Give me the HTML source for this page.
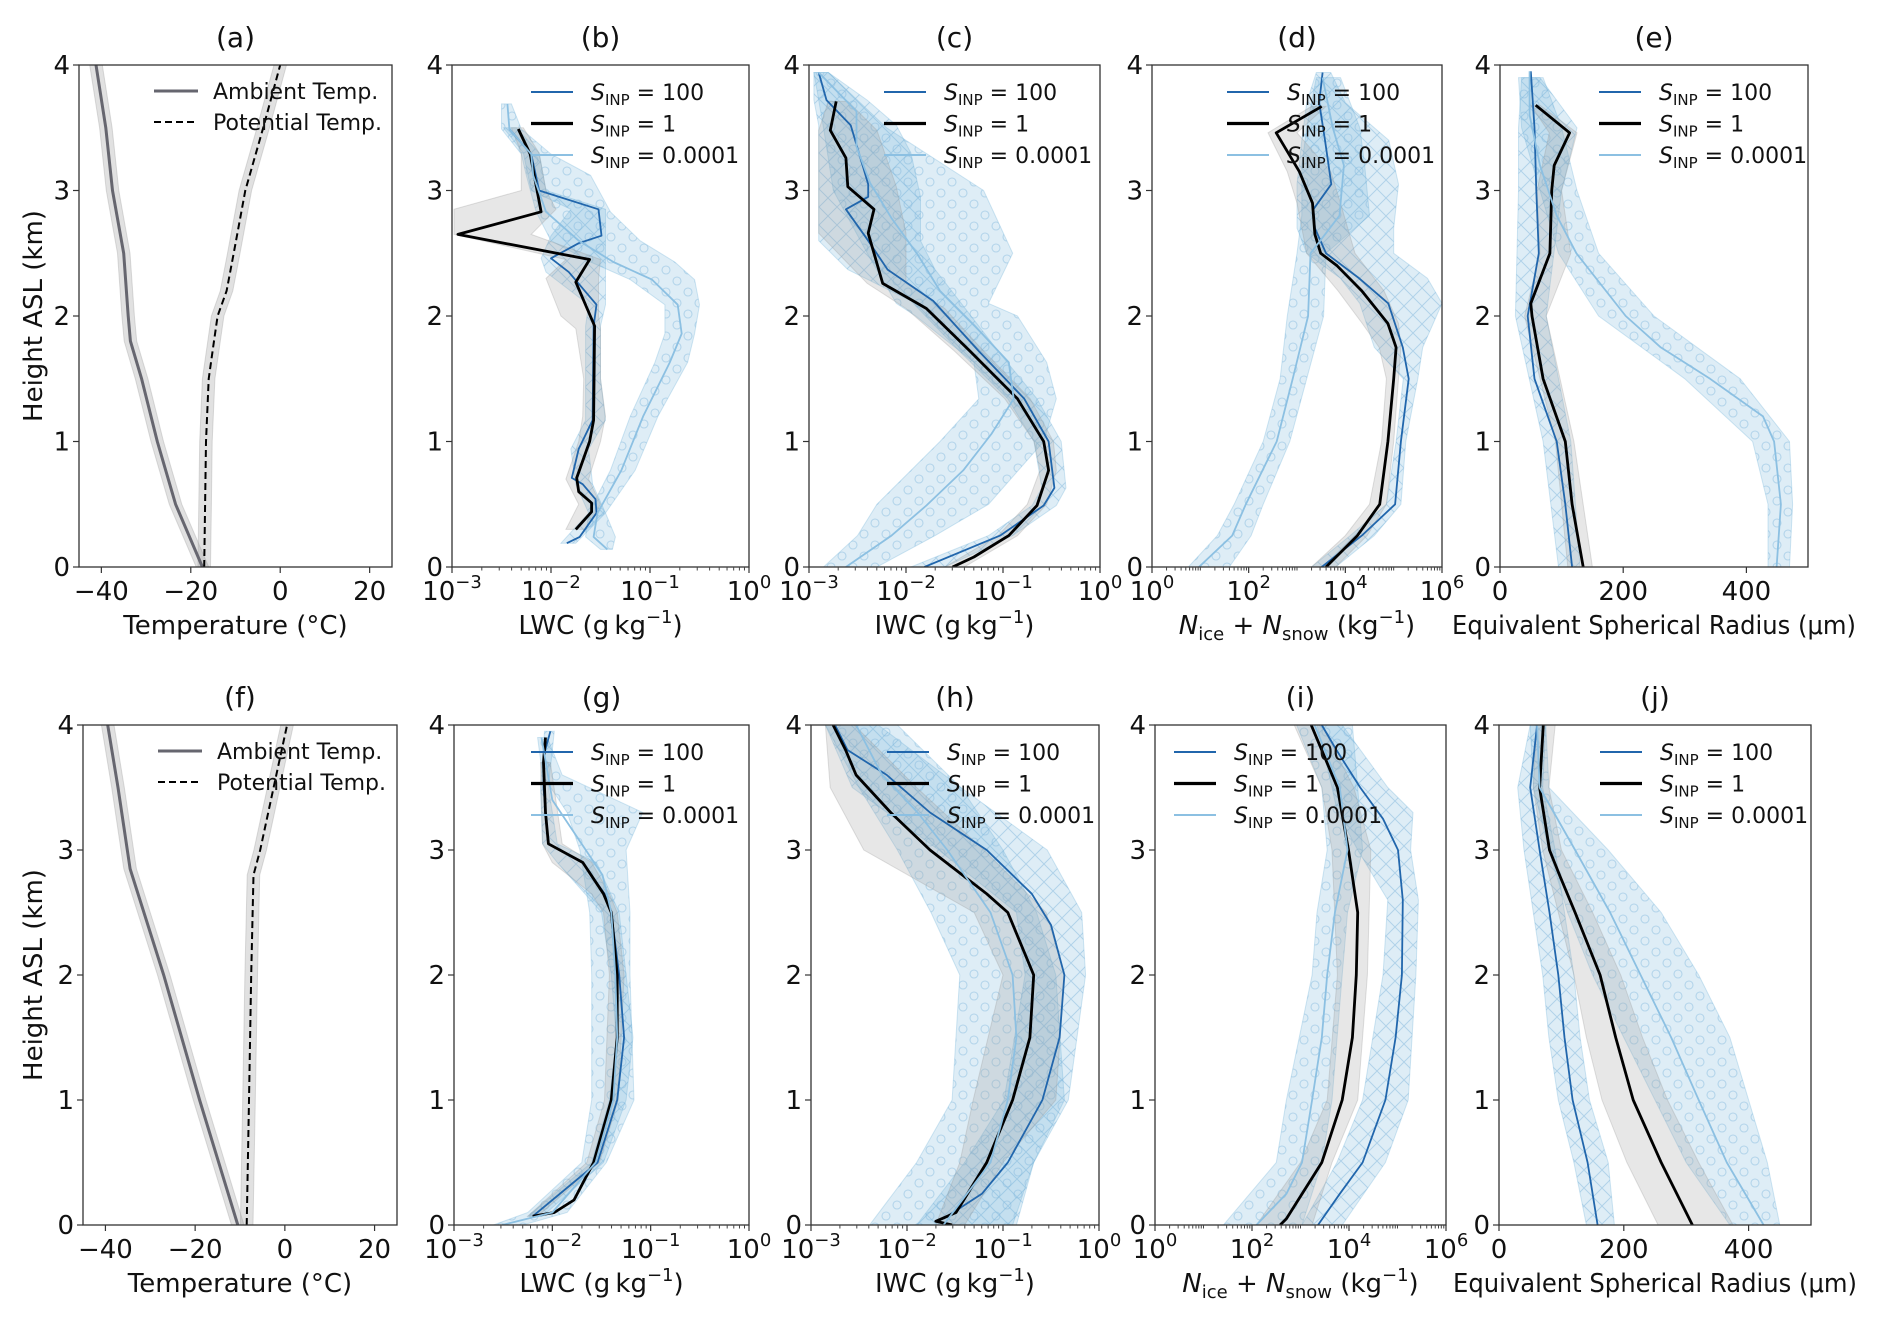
<!DOCTYPE html>
<html><head><meta charset="utf-8">
<style>
html,body{margin:0;padding:0;background:#fff;}
svg text{font-family:"DejaVu Sans","Liberation Sans",sans-serif;fill:#111;}
</style></head>
<body>
<svg id="fig" xmlns="http://www.w3.org/2000/svg" width="1892" height="1320" viewBox="0 0 1892 1320">
<defs>
<pattern id="hatchX" patternUnits="userSpaceOnUse" width="18" height="18">
<path d="M0,0 L18,18 M18,0 L0,18" stroke="#5a9fd0" stroke-width="1" stroke-opacity="0.35" fill="none"/>
</pattern>
<pattern id="circ" patternUnits="userSpaceOnUse" width="22" height="22">
<circle cx="6" cy="6" r="4" stroke="#7fb6dc" stroke-width="1.1" stroke-opacity="0.45" fill="none"/>
<circle cx="17" cy="17" r="4" stroke="#7fb6dc" stroke-width="1.1" stroke-opacity="0.45" fill="none"/>
</pattern>
</defs>
</svg>
<script>
// ===== DATA (heights in km; log panels store log10 of the value) =====
const heightTicks = [0,1,2,3,4];
const tempTickVals = [-40,-20,0,20];
const tempTickLabels = ['\u221240','\u221220','0','20'];
const lwcTickExp = [-3,-2,-1,0];
const nTickExp = [0,2,4,6];
const radTickVals = [0,200,400];
const radTickLabels = ['0','200','400'];

// (a)
const a_amb_h = [0,0.5,1,1.5,1.8,2,2.5,3,3.5,4];
const a_amb_t = [-17.4,-23.4,-27.5,-31,-33.5,-34,-35,-37.5,-39,-41.2];
const a_pot_h = [0,0.5,1,1.5,1.75,2,2.2,2.5,3,3.5,4];
const a_pot_t = [-17,-16.8,-16.6,-16,-15,-14,-12,-10.4,-7.8,-3.8,0];
// (f)
const f_amb_h = [0,1,2,2.85,3.5,4];
const f_amb_t = [-10.5,-19,-27,-34.5,-37.2,-39.5];
const f_pot_h = [0,1,2,2.8,3,3.5,4];
const f_pot_t = [-8.5,-8,-7.5,-7,-5.5,-2.5,0.5];

// (b) LWC
const b1_h = [0.3,0.44,0.51,0.6,0.71,1.0,1.17,1.92,2.27,2.45,2.65,2.83,3.29,3.49];
const b1_x = [-1.75,-1.59,-1.59,-1.72,-1.74,-1.61,-1.57,-1.56,-1.75,-1.61,-2.94,-2.1,-2.21,-2.33];
const b1_bh = [0.3,0.5,0.7,1.0,1.2,1.5,1.9,2.0,2.3,2.45,2.65,2.85,3.0,3.3,3.5];
const b1_lo = [-1.85,-1.72,-1.85,-1.72,-1.68,-1.67,-1.75,-1.9,-2.05,-1.85,-2.98,-2.98,-2.3,-2.3,-2.4];
const b1_hi = [-1.65,-1.5,-1.62,-1.5,-1.45,-1.5,-1.5,-1.52,-1.52,-1.5,-2.2,-1.95,-2.05,-2.12,-2.28];
const b100_h = [0.19,0.24,0.43,0.54,0.66,0.71,0.94,1.17,1.92,2.09,2.35,2.46,2.58,2.64,2.85,3.0,3.29,3.49];
const b100_x = [-1.84,-1.71,-1.54,-1.55,-1.68,-1.79,-1.72,-1.58,-1.57,-1.54,-1.82,-2.0,-1.72,-1.49,-1.52,-2.12,-2.2,-2.42];
const b100_bh = [0.19,0.43,0.66,0.94,1.17,1.5,1.92,2.09,2.35,2.46,2.64,2.85,3.0,3.3,3.5];
const b100_lo = [-1.9,-1.62,-1.75,-1.8,-1.65,-1.65,-1.65,-1.62,-2.05,-2.1,-2.0,-1.8,-2.2,-2.28,-2.48];
const b100_hi = [-1.75,-1.45,-1.58,-1.62,-1.45,-1.5,-1.5,-1.45,-1.45,-1.45,-1.45,-1.45,-2.05,-2.12,-2.35];
const b4_h = [0.14,0.24,0.43,0.77,1.2,1.63,1.86,2.09,2.29,2.43,2.6,2.83,3.12,3.29,3.49,3.69];
const b4_x = [-1.43,-1.57,-1.53,-1.29,-1.07,-0.8,-0.68,-0.72,-0.98,-1.37,-1.72,-2.05,-2.18,-2.2,-2.42,-2.44];
const b4_bh = [0.14,0.24,0.43,0.77,1.2,1.63,1.86,2.09,2.29,2.43,2.6,2.83,3.12,3.29,3.49,3.69];
const b4_lo = [-1.5,-1.65,-1.62,-1.4,-1.2,-0.95,-0.85,-0.85,-1.2,-1.6,-2.0,-2.15,-2.25,-2.3,-2.5,-2.5];
const b4_hi = [-1.38,-1.35,-1.45,-1.15,-0.92,-0.62,-0.55,-0.5,-0.55,-0.75,-1.1,-1.4,-1.6,-2.0,-2.3,-2.4];

// (c) IWC
const c1_h = [0,0.08,0.25,0.49,0.77,1.0,1.34,1.72,2.06,2.26,2.66,2.85,3.03,3.26,3.48,3.71];
const c1_x = [-1.52,-1.3,-0.94,-0.65,-0.53,-0.58,-0.85,-1.34,-1.79,-2.24,-2.39,-2.33,-2.6,-2.62,-2.78,-2.72];
const c1_bh = [0,0.25,0.5,0.77,1.0,1.34,1.72,2.06,2.26,2.66,3.03,3.48,3.71];
const c1_lo = [-1.6,-1.05,-0.75,-0.62,-0.68,-0.98,-1.5,-2.0,-2.4,-2.9,-2.9,-2.9,-2.8];
const c1_hi = [-1.4,-0.85,-0.55,-0.45,-0.48,-0.72,-1.2,-1.6,-2.0,-2.0,-2.1,-2.3,-2.6];
const c100_h = [0,0.25,0.49,0.63,1.0,1.34,1.72,2.12,2.37,2.6,2.85,2.95,3.05,3.52,3.72,3.94];
const c100_x = [-1.81,-1.03,-0.58,-0.47,-0.53,-0.78,-1.25,-1.72,-2.19,-2.39,-2.62,-2.39,-2.39,-2.57,-2.82,-2.9];
const c100_bh = [0,0.25,0.49,0.63,1.0,1.34,1.72,2.12,2.37,2.6,2.95,3.3,3.52,3.72,3.94];
const c100_lo = [-1.95,-1.15,-0.7,-0.6,-0.68,-0.95,-1.45,-1.95,-2.6,-2.9,-2.9,-2.9,-2.9,-2.95,-2.95];
const c100_hi = [-1.6,-0.9,-0.45,-0.35,-0.4,-0.65,-1.05,-1.45,-1.7,-1.85,-1.85,-1.95,-2.1,-2.4,-2.8];
const c4_h = [0,0.25,0.49,0.77,1.06,1.34,1.63,1.92,2.2,2.49,2.78,3.06,3.35,3.63,3.94];
const c4_x = [-2.62,-2.15,-1.79,-1.41,-1.12,-0.89,-0.94,-1.29,-1.65,-1.88,-2.15,-2.37,-2.51,-2.51,-2.9];
const c4_bh = [0,0.25,0.5,1.0,1.34,1.63,2.0,2.1,2.5,3.0,3.5,3.94];
const c4_lo = [-2.85,-2.5,-2.3,-1.65,-1.25,-1.3,-1.9,-2.1,-2.4,-2.75,-2.85,-2.95];
const c4_hi = [-2.3,-1.7,-1.15,-0.58,-0.45,-0.55,-0.85,-1.15,-0.9,-1.2,-2.2,-2.8];

// (d) N
const d1_h = [0,0.25,0.5,1.0,1.5,1.75,1.94,2.2,2.4,2.5,2.65,2.9,3.15,3.46,3.67];
const d1_x = [3.6,4.25,4.71,4.88,5.0,5.05,4.88,4.34,3.83,3.49,3.37,3.32,3.05,2.57,3.51];
const d1_bh = [0,0.25,0.5,1.0,1.5,1.75,1.94,2.2,2.5,2.9,3.15,3.46,3.67];
const d1_lo = [3.3,4.0,4.5,4.75,4.85,4.7,4.35,3.85,3.2,3.0,2.8,2.4,3.3];
const d1_hi = [3.8,4.45,4.85,5.0,5.1,5.15,5.1,4.8,4.2,3.9,3.7,3.0,3.6];
const d100_h = [0,0.25,0.5,1.0,1.5,1.75,2.1,2.3,2.5,2.7,2.85,3.05,3.4,3.7,3.94];
const d100_x = [3.51,4.34,5.03,5.15,5.31,5.19,4.89,4.29,3.6,3.37,3.34,3.71,3.58,3.46,3.53];
const d100_bh = [0,0.25,0.5,1.0,1.5,1.75,2.1,2.3,2.5,2.7,3.05,3.4,3.7,3.94];
const d100_lo = [3.3,4.1,4.85,5.05,5.2,4.6,4.3,3.9,3.2,3.0,3.0,3.1,3.2,3.4];
const d100_hi = [3.8,4.6,5.15,5.25,5.5,5.6,6.0,5.7,5.0,5.0,5.1,4.9,4.0,3.7];
const d4_h = [0,0.25,0.5,1.0,1.5,2.0,2.5,2.8,3.2,3.5,3.9];
const d4_x = [0.97,1.66,1.94,2.58,2.91,3.23,3.28,3.88,3.97,3.74,3.53];
const d4_bh = [0,0.25,0.5,1.0,1.5,2.0,2.5,2.8,3.2,3.5,3.9];
const d4_lo = [0.75,1.35,1.7,2.3,2.65,2.8,3.0,3.1,3.1,3.2,3.4];
const d4_hi = [1.6,2.05,2.3,2.85,3.2,3.55,3.6,4.5,4.4,4.3,3.9];

// (e) radius
const e1_h = [0,0.5,1.0,1.5,2.0,2.1,2.5,3.0,3.2,3.46,3.68];
const e1_x = [135,117,106,70,52,50,81,84,88,113,58];
const e1_bh = [0,1.0,2.0,2.5,3.0,3.46,3.68];
const e1_lo = [110,90,40,65,60,80,50];
const e1_hi = [150,120,75,115,100,125,65];
const e100_h = [0,0.5,1.0,1.5,2.0,2.5,3.0,3.5,3.95];
const e100_x = [117,106,92,56,45,63,59,56,50];
const e100_bh = [0,1.0,2.0,3.0,3.5,3.9];
const e100_lo = [95,70,25,30,30,35];
const e100_hi = [130,115,75,100,125,65];
const e4_h = [0,0.5,1.0,1.2,1.5,1.75,2.0,2.5,2.8,3.2,3.6,3.95];
const e4_x = [449,456,445,427,341,261,204,124,92,65,48,48];
const e4_bh = [0,0.5,1.0,1.5,2.0,2.5,3.0,3.5,3.9];
const e4_lo = [435,435,410,300,160,95,65,35,30];
const e4_hi = [470,475,470,390,250,160,125,100,70];

// (g) LWC
const g1_h = [0.07,0.1,0.2,0.5,1.0,1.5,2.0,2.5,2.65,2.9,3.05,3.3,3.7,3.9];
const g1_x = [-2.2,-1.98,-1.78,-1.58,-1.4,-1.34,-1.34,-1.4,-1.48,-1.69,-2.04,-2.07,-2.09,-2.07];
const g1_bh = [0.07,0.5,1.0,2.0,2.5,2.65,2.9,3.05,3.7];
const g1_lo = [-2.25,-1.65,-1.47,-1.42,-1.48,-1.6,-2.0,-2.1,-2.12];
const g1_hi = [-2.15,-1.52,-1.33,-1.27,-1.34,-1.42,-1.6,-1.9,-2.02];
const g100_h = [0.07,0.5,1.0,1.5,2.0,2.5,2.65,2.9,3.05,3.5,3.75,3.95];
const g100_x = [-2.2,-1.54,-1.34,-1.27,-1.32,-1.4,-1.47,-1.69,-2.04,-2.09,-2.09,-2.02];
const g100_bh = [0.07,0.5,1.0,1.5,2.0,2.5,2.9,3.05,3.5,3.95];
const g100_lo = [-2.25,-1.6,-1.42,-1.35,-1.4,-1.5,-1.95,-2.1,-2.12,-2.08];
const g100_hi = [-2.1,-1.48,-1.25,-1.18,-1.25,-1.32,-1.55,-1.95,-2.04,-1.98];
const g4_h = [0,0.1,0.5,1.0,1.5,2.0,2.5,2.8,3.4,3.9];
const g4_x = [-2.51,-2.0,-1.56,-1.38,-1.34,-1.36,-1.4,-1.49,-2.0,-2.11];
const g4_bh = [0,0.1,0.5,1.0,2.0,2.5,3.0,3.3,3.6,3.9];
const g4_lo = [-2.6,-2.25,-1.7,-1.6,-1.6,-1.62,-1.72,-1.85,-2.1,-2.15];
const g4_hi = [-2.3,-1.85,-1.45,-1.17,-1.21,-1.21,-1.25,-1.08,-1.9,-2.05];

// (h) IWC
const h1_h = [0,0.03,0.1,0.5,1.0,1.5,2.0,2.5,2.65,3.0,3.3,3.6,3.8,4.0];
const h1_x = [-1.53,-1.7,-1.49,-1.17,-0.9,-0.72,-0.68,-0.95,-1.17,-1.76,-2.17,-2.53,-2.64,-2.77];
const h1_bh = [0,0.5,1.0,2.0,2.5,3.0,3.5,4.0];
const h1_lo = [-1.7,-1.45,-1.31,-1.0,-1.3,-2.45,-2.8,-2.85];
const h1_hi = [-1.4,-1.0,-0.45,-0.36,-0.55,-1.2,-1.9,-2.55];
const h100_h = [0.05,0.25,0.5,1.0,1.5,2.0,2.4,2.65,3.0,3.3,3.6,3.8,4.0];
const h100_x = [-1.62,-1.22,-0.95,-0.59,-0.41,-0.36,-0.5,-0.7,-1.17,-1.76,-2.21,-2.62,-2.75];
const h100_bh = [0,0.5,1.0,2.0,2.5,3.0,3.5,4.0];
const h100_lo = [-1.9,-1.4,-0.99,-0.77,-0.86,-1.67,-2.57,-2.85];
const h100_hi = [-0.86,-0.68,-0.32,-0.14,-0.18,-0.54,-1.44,-2.3];
const h4_h = [0,0.5,1.0,1.5,2.0,2.5,2.8,3.0,3.3,3.6,4.0];
const h4_x = [-1.62,-1.13,-0.95,-0.86,-0.9,-1.13,-1.4,-1.58,-1.89,-2.26,-2.53];
const h4_bh = [0,0.5,1.0,2.0,2.5,3.0,3.5,4.0];
const h4_lo = [-2.39,-1.9,-1.53,-1.45,-1.75,-2.1,-2.5,-2.85];
const h4_hi = [-0.9,-0.68,-0.36,-0.45,-0.65,-1.0,-1.44,-2.1];

// (i) N
const i1_h = [0,0.05,0.5,1.0,1.5,2.0,2.5,3.0,3.5,4.0];
const i1_x = [2.58,2.71,3.44,3.86,4.07,4.15,4.18,3.99,3.76,3.22];
const i1_bh = [0,0.5,1.0,2.0,3.0,3.5,4.0];
const i1_lo = [2.09,3.0,3.55,3.76,3.65,3.44,2.87];
const i1_hi = [3.24,3.65,4.18,4.38,4.45,4.1,3.44];
const i100_h = [0,0.25,0.5,1.0,1.5,2.0,2.6,3.0,3.25,3.5,3.8,4.0];
const i100_x = [3.36,3.81,4.28,4.75,4.96,5.09,5.11,5.01,4.7,4.23,3.74,3.44];
const i100_bh = [0,0.5,1.0,2.0,2.6,3.0,3.3,3.5,4.0];
const i100_lo = [3.03,3.75,4.28,4.7,4.8,4.18,3.76,3.65,3.34];
const i100_hi = [3.86,4.75,5.22,5.38,5.43,5.27,5.32,4.8,3.86];
const i4_h = [0,0.25,0.5,1.0,1.5,2.0,2.5,3.0,3.5,4.0];
const i4_x = [2.09,2.71,3.03,3.24,3.44,3.55,3.71,3.97,3.81,3.29];
const i4_bh = [0,0.5,1.0,2.0,2.5,3.0,3.5,4.0];
const i4_lo = [1.41,2.5,2.71,3.24,3.34,3.55,3.44,2.92];
const i4_hi = [3.03,3.44,3.65,3.86,3.97,4.28,4.18,4.07];

// (j) radius
const j1_h = [0,0.5,1.0,1.5,2.0,2.5,2.8,3.0,3.5,4.0];
const j1_x = [310,260,215,187,162,122,97,81,65,71];
const j1_bh = [0,0.5,1.0,1.5,2.0,2.5,3.0,3.5,4.0];
const j1_lo = [255,205,165,140,120,95,70,55,60];
const j1_hi = [375,320,270,230,195,150,100,80,90];
const j100_h = [0,0.5,1.0,1.5,2.0,2.5,3.0,3.5,4.0];
const j100_x = [158,142,118,105,95,81,65,50,61];
const j100_bh = [0,0.5,1.0,1.5,2.0,2.5,3.0,3.5,4.0];
const j100_lo = [140,120,95,80,70,55,40,30,50];
const j100_hi = [185,175,145,130,120,105,90,70,75];
const j4_h = [0,0.5,1.0,1.5,2.0,2.5,3.0,3.5,4.0];
const j4_x = [424,365,320,276,227,178,122,65,61];
const j4_bh = [0,0.5,1.0,1.5,2.0,2.5,3.0,3.5,4.0];
const j4_lo = [370,300,250,200,150,110,80,55,50];
const j4_hi = [450,430,400,370,320,260,175,80,75];

// ===== DRAWING =====
const NS = 'http://www.w3.org/2000/svg';
const svg = document.getElementById('fig');
function mk(tag, attrs, parent){
  const e = document.createElementNS(NS, tag);
  for (const k in attrs) e.setAttribute(k, attrs[k]);
  parent.appendChild(e);
  return e;
}
const DARK = '#2166ac', LIGHT = '#8cc0e2';
const LEG_S = [
  {label:' = 100', color:DARK, w:2},
  {label:' = 1', color:'#000', w:3.2},
  {label:' = 0.0001', color:LIGHT, w:2}
];
const panels = [
 {id:'a', x0:79, x1:392, y0:65, y1:567, xmin:-45, xmax:25, type:'temp', amb:[a_amb_h,a_amb_t], pot:[a_pot_h,a_pot_t], xlabel:'Temperature (\u00b0C)', ylab:true, leg:[154,213]},
 {id:'b', x0:452, x1:749, y0:65, y1:567, xmin:-3, xmax:0, type:'log', ticks:lwcTickExp,
   s:[[b1_h,b1_x,b1_bh,b1_lo,b1_hi],[b100_h,b100_x,b100_bh,b100_lo,b100_hi],[b4_h,b4_x,b4_bh,b4_lo,b4_hi]], xlabel:'LWC', leg:[531,591]},
 {id:'c', x0:809, x1:1100, y0:65, y1:567, xmin:-3, xmax:0, type:'log', ticks:lwcTickExp,
   s:[[c1_h,c1_x,c1_bh,c1_lo,c1_hi],[c100_h,c100_x,c100_bh,c100_lo,c100_hi],[c4_h,c4_x,c4_bh,c4_lo,c4_hi]], xlabel:'IWC', leg:[884,944]},
 {id:'d', x0:1152, x1:1442, y0:65, y1:567, xmin:0, xmax:6, type:'log', ticks:nTickExp,
   s:[[d1_h,d1_x,d1_bh,d1_lo,d1_hi],[d100_h,d100_x,d100_bh,d100_lo,d100_hi],[d4_h,d4_x,d4_bh,d4_lo,d4_hi]], xlabel:'N', leg:[1227,1287]},
 {id:'e', x0:1500, x1:1808, y0:65, y1:567, xmin:0, xmax:500, type:'lin', ticks:radTickVals, tlabels:radTickLabels,
   s:[[e1_h,e1_x,e1_bh,e1_lo,e1_hi],[e100_h,e100_x,e100_bh,e100_lo,e100_hi],[e4_h,e4_x,e4_bh,e4_lo,e4_hi]], xlabel:'R', leg:[1599,1659]},
 {id:'f', x0:83, x1:397, y0:725, y1:1225, xmin:-45, xmax:25, type:'temp', amb:[f_amb_h,f_amb_t], pot:[f_pot_h,f_pot_t], xlabel:'Temperature (\u00b0C)', ylab:true, leg:[158,217]},
 {id:'g', x0:454, x1:749, y0:725, y1:1225, xmin:-3, xmax:0, type:'log', ticks:lwcTickExp,
   s:[[g1_h,g1_x,g1_bh,g1_lo,g1_hi],[g100_h,g100_x,g100_bh,g100_lo,g100_hi],[g4_h,g4_x,g4_bh,g4_lo,g4_hi]], xlabel:'LWC', leg:[531,591]},
 {id:'h', x0:811, x1:1099, y0:725, y1:1225, xmin:-3, xmax:0, type:'log', ticks:lwcTickExp,
   s:[[h1_h,h1_x,h1_bh,h1_lo,h1_hi],[h100_h,h100_x,h100_bh,h100_lo,h100_hi],[h4_h,h4_x,h4_bh,h4_lo,h4_hi]], xlabel:'IWC', leg:[887,947]},
 {id:'i', x0:1155, x1:1446, y0:725, y1:1225, xmin:0, xmax:6, type:'log', ticks:nTickExp,
   s:[[i1_h,i1_x,i1_bh,i1_lo,i1_hi],[i100_h,i100_x,i100_bh,i100_lo,i100_hi],[i4_h,i4_x,i4_bh,i4_lo,i4_hi]], xlabel:'N', leg:[1174,1234]},
 {id:'j', x0:1499, x1:1811, y0:725, y1:1225, xmin:0, xmax:500, type:'lin', ticks:radTickVals, tlabels:radTickLabels,
   s:[[j1_h,j1_x,j1_bh,j1_lo,j1_hi],[j100_h,j100_x,j100_bh,j100_lo,j100_hi],[j4_h,j4_x,j4_bh,j4_lo,j4_hi]], xlabel:'R', leg:[1600,1660]}
];
const ORDER = [1,2,0];
const SNAME = ['s-inp-1','s-inp-100','s-inp-0001'];

function drawPanel(p){
  const g = mk('g', {}, svg);
  
  
  const X = v => p.x0 + (v - p.xmin) / (p.xmax - p.xmin) * (p.x1 - p.x0);
  const Y = h => p.y1 - h / 4 * (p.y1 - p.y0);
  const clipId = 'clip' + p.id;
  const cp = mk('clipPath', {id:clipId}, g);
  mk('rect', {x:p.x0, y:p.y0, width:p.x1-p.x0, height:p.y1-p.y0}, cp);
  const plot = mk('g', {'clip-path':'url(#'+clipId+')'}, g);
  
  
  const lineD = (hs, xs) => hs.map((h,k)=>(k?'L':'M')+X(xs[k]).toFixed(1)+','+Y(h).toFixed(1)).join(' ');
  const bandD = (hs, lo, hi) => {
    let d = hs.map((h,k)=>(k?'L':'M')+X(hi[k]).toFixed(1)+','+Y(h).toFixed(1)).join(' ');
    for (let k = hs.length-1; k >= 0; k--) d += ' L'+X(lo[k]).toFixed(1)+','+Y(hs[k]).toFixed(1);
    return d + ' Z';
  };
  if (p.type === 'temp'){
    const bands = [[p.amb[0], p.amb[1]], [p.pot[0], p.pot[1]]];
    bands.forEach((b, bi) => {
      const lo = b[1].map(v => v - 1.4), hi = b[1].map(v => v + 1.4);
      const band = mk('path', {d:bandD(b[0], lo, hi), fill:'#9a9a9a', 'fill-opacity':0.3, stroke:'#aaa', 'stroke-opacity':0.4}, plot);
      
      
    });
    const amb = mk('path', {d:lineD(p.amb[0], p.amb[1]), fill:'none', stroke:'#66666f', 'stroke-width':3}, plot);
    
    
    const pot = mk('path', {d:lineD(p.pot[0], p.pot[1]), fill:'none', stroke:'#000', 'stroke-width':2, 'stroke-dasharray':'7,4'}, plot);
    
    
  } else {
    ORDER.forEach(si => {
      const s = p.s[si];
      const isGray = si === 0;
      const band = mk('path', {d:bandD(s[2], s[3], s[4]), fill:isGray ? '#a0a0a0' : '#6baed6', 'fill-opacity':isGray ? 0.25 : 0.22, stroke:isGray ? '#999' : '#6baed6', 'stroke-opacity':0.3}, plot);
      
      
      if (!isGray){
        const pat = mk('path', {d:bandD(s[2], s[3], s[4]), fill: si === 1 ? 'url(#hatchX)' : 'url(#circ)', stroke:'none'}, plot);
        
        
      }
    });
    [[1, DARK, 1.8], [0, '#000', 2.8], [2, LIGHT, 1.8]].forEach(c => {
      const s = p.s[c[0]];
      const ln = mk('path', {d:lineD(s[0], s[1]), fill:'none', stroke:c[1], 'stroke-width':c[2], 'stroke-linejoin':'round'}, plot);
      
      
    });
  }
  const fr = mk('rect', {x:p.x0, y:p.y0, width:p.x1-p.x0, height:p.y1-p.y0, fill:'none', stroke:'#333', 'stroke-width':1.3}, g);
  
  
  heightTicks.forEach(t => {
    const tk = mk('line', {x1:p.x0-6, x2:p.x0, y1:Y(t), y2:Y(t), stroke:'#333', 'stroke-width':1.2}, g);
    
    
    const tl = mk('text', {x:p.x0-9, y:Y(t)+9, 'text-anchor':'end', 'font-size':26}, g);
    tl.textContent = String(t);
    
    
  });
  const tickVals = p.type === 'temp' ? tempTickVals : p.ticks;
  tickVals.forEach((t, k) => {
    const tk = mk('line', {x1:X(t), x2:X(t), y1:p.y1, y2:p.y1+6, stroke:'#333', 'stroke-width':1.2}, g);
    
    
    const tl = mk('text', {x:X(t), y:p.y1+33, 'text-anchor':'middle', 'font-size':26}, g);
    if (p.type === 'log') tl.innerHTML = '10<tspan font-size="18" dy="-12">' + String(t).replace('-', '\u2212') + '</tspan>';
    else if (p.type === 'temp') tl.textContent = tempTickLabels[k];
    else tl.textContent = p.tlabels[k];
    
    
  });
  if (p.type === 'log'){
    for (let e = p.xmin; e < p.xmax; e++){
      for (let m = 2; m <= 9; m++){
        const v = e + Math.log10(m);
        const mt = mk('line', {x1:X(v), x2:X(v), y1:p.y1, y2:p.y1+3.5, stroke:'#444', 'stroke-width':1}, g);
        
        
      }
      if (p.ticks[1] - p.ticks[0] === 2 && (e - p.xmin) % 2 === 1){
        const mt2 = mk('line', {x1:X(e), x2:X(e), y1:p.y1, y2:p.y1+3.5, stroke:'#444', 'stroke-width':1}, g);
        
        
      }
    }
  }
  const ti = mk('text', {x:(p.x0+p.x1)/2, y:p.y0-18, 'text-anchor':'middle', 'font-size':28}, g);
  ti.textContent = '(' + p.id + ')';
  
  
  const xl = mk('text', {x:(p.x0+p.x1)/2, y:p.y1+67, 'text-anchor':'middle', 'font-size':26}, g);
  if (p.xlabel === 'LWC' || p.xlabel === 'IWC') xl.innerHTML = p.xlabel + ' (g\u2009kg<tspan font-size="18" dy="-11">\u22121</tspan><tspan dy="11">)</tspan>';
  else if (p.xlabel === 'N') xl.innerHTML = '<tspan font-style="italic">N</tspan><tspan font-size="18" dy="6">ice</tspan><tspan dy="-6"> + </tspan><tspan font-style="italic">N</tspan><tspan font-size="18" dy="6">snow</tspan><tspan dy="-6"> (kg</tspan><tspan font-size="18" dy="-11">\u22121</tspan><tspan dy="11">)</tspan>';
  else if (p.xlabel === 'R'){ xl.textContent = 'Equivalent Spherical Radius (\u03bcm)'; xl.setAttribute('textLength', 404); xl.setAttribute('lengthAdjust', 'spacingAndGlyphs'); }
  else xl.textContent = p.xlabel;
  
  
  if (p.ylab){
    const cy = (p.y0 + p.y1) / 2;
    const yl = mk('text', {x:0, y:0, 'text-anchor':'middle', 'font-size':26, transform:'translate(42,'+cy+') rotate(-90)'}, g);
    yl.textContent = 'Height ASL (km)';
    
    
  }
  const lg = mk('g', {}, g);
  
  
  if (p.type === 'temp'){
    const ents = [['Ambient Temp.', '#66666f', 3, null], ['Potential Temp.', '#000', 2, '7,4']];
    ents.forEach((en, k) => {
      const yy = p.y0 + 26 + k * 31;
      const l = mk('line', {x1:p.leg[0], x2:p.leg[0]+44, y1:yy, y2:yy, stroke:en[1], 'stroke-width':en[2]}, lg);
      if (en[3]) l.setAttribute('stroke-dasharray', en[3]);
      
      
      const t = mk('text', {x:p.leg[1], y:yy+8, 'font-size':22}, lg);
      t.textContent = en[0];
      
      
    });
  } else {
    LEG_S.forEach((en, k) => {
      const yy = p.y0 + 27 + k * 31.5;
      const l = mk('line', {x1:p.leg[0], x2:p.leg[0]+42, y1:yy, y2:yy, stroke:en.color, 'stroke-width':en.w}, lg);
      
      
      const t = mk('text', {x:p.leg[1], y:yy+8, 'font-size':22}, lg);
      t.innerHTML = '<tspan font-style="italic">S</tspan><tspan font-size="15" dy="5">INP</tspan><tspan dy="-5">' + en.label + '</tspan>';
      
      
    });
  }
}
panels.forEach(drawPanel);
</script>
</body></html>
